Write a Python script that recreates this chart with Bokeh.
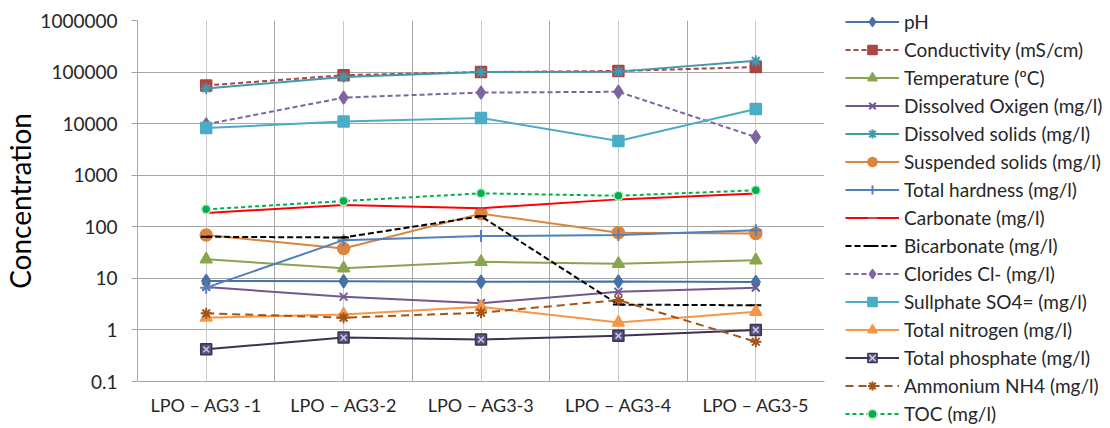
from bokeh.plotting import figure
from bokeh.models import (FactorRange, Range1d, FixedTicker, Grid, Legend, LegendItem,
                          CustomJSTickFormatter)
from bokeh.embed import file_html
from bokeh.resources import INLINE

# ---- data ----
categories = ["LPO – AG3 -1", "LPO – AG3-2", "LPO – AG3-3", "LPO – AG3-4", "LPO – AG3-5"]
y_ticks = [0.1, 1, 10, 100, 1000, 10000, 100000, 1000000]

ph = [8.9, 8.8, 8.6, 8.7, 8.5]
conductivity = [55000, 87000, 100000, 105000, 125000]
temperature = [23.4, 15.7, 20.9, 19.2, 22.4]
dissolved_oxygen = [6.8, 4.4, 3.3, 5.5, 6.6]
dissolved_solids = [48000, 80000, 100000, 102000, 165000]
suspended_solids = [69, 38, 180, 77, 74]
total_hardness = [6.6, 55, 66, 69, 86]
carbonate = [185, 265, 229, 340, 440]
bicarbonate = [64, 62, 160, 3.1, 3.0]
clorides = [9700, 32000, 40000, 41500, 5500]
sulphate = [8200, 11000, 12900, 4600, 19200]
total_nitrogen = [1.73, 2.0, 2.8, 1.39, 2.26]
total_phosphate = [0.42, 0.71, 0.65, 0.77, 1.0]
ammonium = [2.1, 1.73, 2.16, 3.8, 0.59]
toc = [218, 316, 445, 400, 510]

FONT = "Lato"

p = figure(frame_width=687, frame_height=361,
           x_range=FactorRange(*categories, range_padding=0),
           y_axis_type="log", y_range=Range1d(0.1, 1000000),
           output_backend="svg", toolbar_location=None,
           min_border_left=130, min_border_right=293,
           min_border_top=20, min_border_bottom=47)
p.outline_line_color = None
p.background_fill_color = "white"

# y axis
p.yaxis.ticker = FixedTicker(ticks=y_ticks, minor_ticks=[])
p.yaxis.formatter = CustomJSTickFormatter(code="return tick >= 1 ? tick.toFixed(0) : tick.toString();")
p.yaxis.axis_line_color = "#A6A6A6"
p.yaxis.major_tick_line_color = "#A6A6A6"
p.yaxis.major_tick_out = 6
p.yaxis.major_tick_in = 0
p.yaxis.minor_tick_line_color = None
p.yaxis.major_label_text_font = FONT
p.yaxis.major_label_text_font_size = "19px"
p.yaxis.major_label_text_color = "#262626"
p.yaxis.major_label_standoff = 14
p.yaxis.axis_label = "Concentration"
p.yaxis.axis_label_text_font = FONT
p.yaxis.axis_label_text_font_size = "28px"
p.yaxis.axis_label_text_font_style = "normal"
p.yaxis.axis_label_text_color = "black"
p.yaxis.axis_label_standoff = 0

# x axis
p.xaxis.axis_line_color = "#A6A6A6"
p.xaxis.major_tick_line_color = None
p.xaxis.minor_tick_line_color = None
p.xaxis.major_label_text_font = FONT
p.xaxis.major_label_text_font_size = "18px"
p.xaxis.major_label_text_color = "#262626"
p.xaxis.major_label_standoff = 6

# grids
p.ygrid.grid_line_color = "#A6A6A6"
p.ygrid.grid_line_width = 1
p.xgrid.ticker = FixedTicker(ticks=[0, 1, 2, 3, 4, 5])
p.xgrid.grid_line_color = "#A6A6A6"
center_grid = Grid(dimension=0, ticker=FixedTicker(ticks=[0.5, 1.5, 2.5, 3.5, 4.5]),
                   grid_line_color="#C8C8C8", grid_line_width=1)
p.add_layout(center_grid)

series = [
    ("pH", ph, "#4572A7", "solid", "diamond", 13, "#4572A7", "#4572A7"),
    ("Conductivity (mS/cm)", conductivity, "#AA4643", "5 3", "square", 11, "#AA4643", "#AA4643"),
    ("Temperature (ºC)", temperature, "#89A54E", "solid", "triangle", 12, "#89A54E", "#89A54E"),
    ("Dissolved Oxigen (mg/l)", dissolved_oxygen, "#71588F", "solid", "x", 11, "#71588F", "#71588F"),
    ("Dissolved solids (mg/l)", dissolved_solids, "#4198AF", "solid", "asterisk", 11, "#4198AF", "#4198AF"),
    ("Suspended solids (mg/l)", suspended_solids, "#DB843D", "solid", "circle", 12, "#DB843D", "#DB843D"),
    ("Total hardness (mg/l)", total_hardness, "#4F81BD", "solid", "cross", 12, "#4F81BD", "#4F81BD"),
    ("Carbonate (mg/l)", carbonate, "#FF0000", "solid", "dash", 6, "#C0504D", "#C0504D"),
    ("Bicarbonate (mg/l)", bicarbonate, "#000000", "6 3", "dash", 11, "#000000", "#000000"),
    ("Clorides Cl- (mg/l)", clorides, "#8064A2", "5 3", "diamond", 13, "#8064A2", "#8064A2"),
    ("Sullphate SO4= (mg/l)", sulphate, "#4BACC6", "solid", "square", 11, "#4BACC6", "#4BACC6"),
    ("Total nitrogen (mg/l)", total_nitrogen, "#F79646", "solid", "triangle", 12, "#F79646", "#F79646"),
    ("Total phosphate (mg/l)", total_phosphate, "#403152", "solid", "square", 11, "#55557F", "#403152"),
    ("Ammonium NH4 (mg/l)", ammonium, "#A0561A", "8 5", "asterisk", 11, "#A0561A", "#A0561A"),
    ("TOC (mg/l)", toc, "#00B050", "4 3", "circle", 9, "#00B050", "#C6E8C6"),
]

items = []
for label, vals, color, dash, marker, size, fill, mline in series:
    r_line = p.line(categories, vals, line_color=color, line_width=2, line_dash=dash)
    r_mark = p.scatter(categories, vals, marker=marker, size=size, fill_color=fill,
                       line_color=mline, line_width=2 if marker in ("x", "asterisk", "cross", "dash") else 1.5)
    rs = [r_line, r_mark]
    if label.startswith("Total phosphate"):
        r_x = p.scatter(categories, vals, marker="x", size=8, line_color="#C8CCE8", line_width=1.5)
        rs.append(r_x)
    items.append(LegendItem(label=label, renderers=rs))

legend = Legend(items=items, location=(21, -43.5), padding=0, spacing=5,
                label_height=23, glyph_height=23, glyph_width=54, label_standoff=5,
                label_text_font=FONT, label_text_font_size="19px", label_text_color="#262626",
                border_line_color=None, background_fill_alpha=0, margin=0)
p.add_layout(legend, "right")

open("out.html", "w").write(file_html(p, INLINE))
